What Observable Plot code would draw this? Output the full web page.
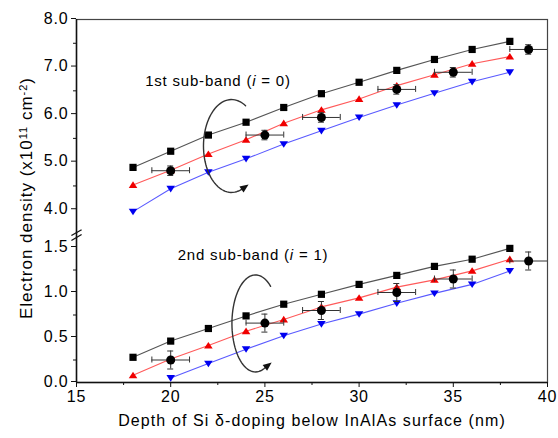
<!DOCTYPE html>
<html><head><meta charset="utf-8">
<script src="https://cdn.jsdelivr.net/npm/d3@7"></script>
<script src="https://cdn.jsdelivr.net/npm/@observablehq/plot@0.6"></script>
<style>body{margin:0;background:#fff}</style>
</head><body><div id="chart"></div>
<script>
// ---- data ----
const depths = [18, 20, 22, 24, 26, 28, 30, 32, 34, 36, 38];
const sub0Black = [4.89, 5.23, 5.57, 5.84, 6.15, 6.44, 6.68, 6.93, 7.16, 7.37, 7.54];
const sub0Red   = [4.52, 4.83, 5.17, 5.47, 5.82, 6.10, 6.33, 6.61, 6.84, 7.07, 7.22];
const sub0Blue  = [3.96, 4.44, 4.79, 5.07, 5.38, 5.66, 5.94, 6.20, 6.45, 6.69, 6.89];
const sub1Black = [0.28, 0.46, 0.60, 0.74, 0.87, 0.98, 1.09, 1.19, 1.29, 1.37, 1.49];
const sub1Red   = [0.08, 0.26, 0.41, 0.57, 0.70, 0.84, 0.94, 1.06, 1.14, 1.24, 1.37];
const sub1Blue  = [null, 0.05, 0.21, 0.37, 0.52, 0.65, 0.76, 0.88, 0.99, 1.09, 1.24];
const expDepths = [20, 25, 28, 32, 35, 39];
const expSub0 = [4.82, 5.57, 5.94, 6.53, 6.89, 7.37];
const expSub1 = [0.25, 0.66, 0.80, 1.00, 1.15, 1.35];
const expDepthErr = 1;
const expSub0Err = 0.1;
const expSub1Err = 0.1;
const xTicksMajor = [15, 20, 25, 30, 35, 40];
const xTicksMinor = [17.5, 22.5, 27.5, 32.5, 37.5];
const yTicksMajor = [0, 0.5, 1.0, 1.5, 4, 5, 6, 7, 8];
const yTicksMinor = [0.25, 0.75, 1.25, 4.5, 5.5, 6.5, 7.5];
const bandLabels = ["1st sub-band (i = 0)", "2nd sub-band (i = 1)"];
const xLabel = "Depth of Si δ-doping below InAlAs surface (nm)";
const yLabel = "Electron density (x10^11 cm^-2)";

// ---- build tables ----
const series = [];
const add = (vals, s) => depths.forEach((d, i) => { if (vals[i] != null) series.push({x: d, y: vals[i], s}); });
add(sub0Black, "k0"); add(sub0Red, "r0"); add(sub0Blue, "b0");
add(sub1Black, "k1"); add(sub1Red, "r1"); add(sub1Blue, "b1");
const exp = [
  ...expDepths.map((d, i) => ({x: d, y: expSub0[i], e: expSub0Err})),
  ...expDepths.map((d, i) => ({x: d, y: expSub1[i], e: expSub1Err}))
];
const colorLine = {k: "#555", r: "#ff5a5a", b: "#5a5aff"};
const colorFill = {k: "#000", r: "#f00000", b: "#0000f0"};

// custom symbols
const sq = {draw(c, size){ const r = Math.sqrt(size/Math.PI); c.rect(-r, -r, 2*r, 2*r); }};
const triUp = {draw(c, size){ const r = Math.sqrt(size/Math.PI); c.moveTo(0,-1.1*r); c.lineTo(1.3*r,0.9*r); c.lineTo(-1.3*r,0.9*r); c.closePath(); }};
const triDown = {draw(c, size){ const r = Math.sqrt(size/Math.PI); c.moveTo(0,1.1*r); c.lineTo(1.3*r,-0.9*r); c.lineTo(-1.3*r,-0.9*r); c.closePath(); }};
const head = (deg) => ({draw(c, size){ const r = Math.sqrt(size/Math.PI); const a = deg*Math.PI/180;
  const fx = Math.cos(a), fy = Math.sin(a), nx = -fy, ny = fx;
  c.moveTo(2.2*r*fx, 2.2*r*fy); c.lineTo(r*nx - 0.2*r*fx, r*ny - 0.2*r*fy); c.lineTo(-r*nx - 0.2*r*fx, -r*ny - 0.2*r*fy); c.closePath(); }});

// curved arrow annotations (ellipse arcs, in data units)
const arcs = [
  {id: 0, cx: 23.23, cy: 5.34, rx: 1.49, ry: 0.977, t0: -60, t1: -292, dir: -35},
  {id: 1, cx: 24.50, cy: 0.656, rx: 1.25, ry: 0.539, t0: -50, t1: -295, dir: -38}
];
const arcPts = arcs.flatMap(a => d3.range(0, 61).map(k => {
  const t = (a.t0 + (a.t1 - a.t0) * k / 60) * Math.PI / 180;
  return {id: a.id, x: a.cx + a.rx * Math.cos(t), y: a.cy - a.ry * Math.sin(t)};
}));
const arcEnds = arcs.map(a => { const t = a.t1 * Math.PI/180; return {x: a.cx + a.rx*Math.cos(t), y: a.cy - a.ry*Math.sin(t), dir: a.dir}; });

const breakMarks = [
  {x1: 14.73, x2: 15.27, y1: 3.21, y2: 3.58},
  {x1: 14.73, x2: 15.27, y1: 2.5, y2: 3.36}
];

const chart = Plot.plot({
  width: 558, height: 438,
  marginLeft: 76, marginRight: 11, marginTop: 19, marginBottom: 56,
  style: {fontFamily: "'Liberation Sans', Arial, sans-serif", fontSize: "15px", color: "#000", background: "#fff", letterSpacing: "0.8px"},
  x: {domain: [15, 40], axis: null},
  y: {type: "linear", domain: [0, 1.5, 3.5, 8], range: [382, 247, 233, 19], axis: null},
  marks: [
    Plot.frame({stroke: "#444", strokeWidth: 1.2}),
    Plot.ruleX([15], {stroke: "#111", strokeWidth: 1.5}),
    Plot.ruleY([0], {stroke: "#111", strokeWidth: 1.5}),
    Plot.axisY(yTicksMajor, {tickSize: 5, tickPadding: 3, tickFormat: d => d.toFixed(1), label: null, stroke: "#111", dy: -1, fontSize: 16}),
    Plot.axisY(yTicksMinor, {tickSize: 3, tickFormat: () => "", label: null, stroke: "#111"}),
    Plot.axisX(xTicksMajor, {tickSize: 5, tickPadding: 3, label: null, stroke: "#111", fontSize: 16}),
    Plot.axisX(xTicksMinor, {tickSize: 3, tickFormat: () => "", label: null, stroke: "#111"}),
    Plot.link(breakMarks, {x1: "x1", x2: "x2", y1: "y1", y2: "y2", stroke: "#111", strokeWidth: 1.3}),
    Plot.line(series, {x: "x", y: "y", z: "s", stroke: d => colorLine[d.s[0]], strokeWidth: 1.1}),
    Plot.dot(series.filter(d => d.s[0] === "k"), {x: "x", y: "y", symbol: sq, r: 3.6, fill: colorFill.k}),
    Plot.dot(series.filter(d => d.s[0] === "r"), {x: "x", y: "y", symbol: triUp, r: 3.3, fill: colorFill.r}),
    Plot.dot(series.filter(d => d.s[0] === "b"), {x: "x", y: "y", symbol: triDown, r: 3.3, fill: colorFill.b}),
    // error bars
    Plot.ruleY(exp, {y: "y", x1: d => d.x - expDepthErr, x2: d => Math.min(40, d.x + expDepthErr), stroke: "#333", strokeWidth: 1}),
    Plot.ruleX(exp, {x: "x", y1: d => d.y - d.e, y2: d => d.y + d.e, stroke: "#333", strokeWidth: 1}),
    Plot.ruleX(exp, {x: d => d.x - expDepthErr, y1: "y", y2: "y", insetTop: -3, insetBottom: -3, stroke: "#333", strokeWidth: 1}),
    Plot.ruleX(exp.filter(d => d.x + expDepthErr < 40), {x: d => d.x + expDepthErr, y1: "y", y2: "y", insetTop: -3, insetBottom: -3, stroke: "#333", strokeWidth: 1}),
    Plot.ruleY(exp, {y: d => d.y - d.e, x1: "x", x2: "x", insetLeft: -3, insetRight: -3, stroke: "#333", strokeWidth: 1}),
    Plot.ruleY(exp, {y: d => d.y + d.e, x1: "x", x2: "x", insetLeft: -3, insetRight: -3, stroke: "#333", strokeWidth: 1}),
    Plot.dot(exp, {x: "x", y: "y", r: 4.5, fill: "#000"}),
    // curved arrows
    Plot.line(arcPts, {x: "x", y: "y", z: "id", stroke: "#333", strokeWidth: 1.4, curve: "linear"}),
    Plot.dot(arcEnds.slice(0,1), {x: "x", y: "y", symbol: head(arcEnds[0].dir), r: 3.6, fill: "#111"}),
    Plot.dot(arcEnds.slice(1,2), {x: "x", y: "y", symbol: head(arcEnds[1].dir), r: 3.6, fill: "#111"}),
    // labels
    Plot.text([bandLabels[0]], {x: 22.51, y: 6.71, text: d => d, fontSize: 15}),
    Plot.text([bandLabels[1]], {x: 24.37, y: 1.42, text: d => d, fontSize: 15}),
    Plot.text([xLabel], {frameAnchor: "bottom", dy: 43, text: d => d, fontSize: 16}),
    Plot.text([yLabel], {frameAnchor: "left", textAnchor: "middle", dx: -50, dy: -3, rotate: -90, text: d => d, fontSize: 17})
  ]
});
const NS = "http://www.w3.org/2000/svg";
chart.querySelectorAll("text").forEach(t => {
  if (t.children.length) return;
  const s = t.textContent;
  if (s === xLabel) t.setAttribute("letter-spacing", "1.1px");
  // italic "i" in the band labels
  const m = s.match(/^(\d\w\w sub-band \()i( = \d\))$/);
  if (m) {
    t.textContent = "";
    t.append(document.createTextNode(m[1]));
    const ts = document.createElementNS(NS, "tspan");
    ts.setAttribute("font-style", "italic"); ts.textContent = "i";
    t.append(ts, document.createTextNode(m[2]));
  }
  // superscripts in the y label
  if (s === yLabel) {
    t.setAttribute("letter-spacing", "1px");
    t.textContent = "";
    s.split(/(\^[-\d]+)/).forEach(part => {
      if (!part) return;
      const ts = document.createElementNS(NS, "tspan");
      if (part[0] === "^") {
        ts.setAttribute("font-size", "11");
        ts.setAttribute("baseline-shift", "45%");
        ts.textContent = part.slice(1);
      } else {
        ts.textContent = part;
      }
      t.append(ts);
    });
  }
});
document.getElementById("chart").append(chart);
</script></body></html>
